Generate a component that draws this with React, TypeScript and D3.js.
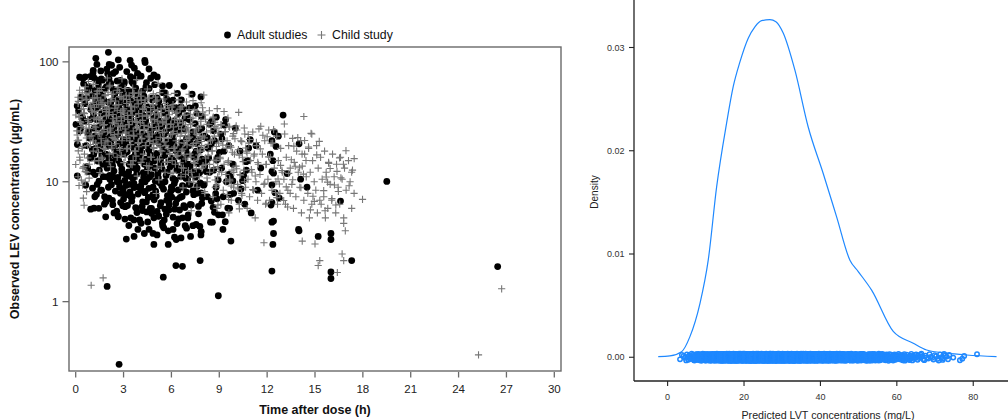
import React from "react";
import * as d3 from "d3";

// ---------- Left panel data: observed LEV concentration vs time after dose ----------
const xTicksLeft = [0, 3, 6, 9, 12, 15, 18, 21, 24, 27, 30];
const yTicksLeft = [1, 10, 100];

// individually read observations (edges, columns and outliers)
const adultStudies: [number, number][] = [
  [0.1,11.2],[0.31,28],[0.46,73],[1.04,75],[1.26,107],
  [0.6,75],[0.85,62],[0.7,50],[0.95,40],[0.55,32],[0.8,26],[0.65,20],[0.9,16],[0.75,13],[0.94,5.9],
  [1.1,85],[1.35,70],[1.2,58],[1.45,48],[1.05,40],[1.3,33],[1.15,28],[1.4,23],[1.25,19],[1.48,15],[1.1,12],[1.35,9.5],[1.2,7.5],[1.45,6],
  [2.05,120],[1.95,87],[1.6,72],[1.85,60],[1.7,52],[1.55,44],[1.9,37],[1.65,31],[1.8,26],[1.58,21],[1.88,17],[1.7,14],[1.95,11],[1.62,8.5],[1.8,6.5],[1.88,5.1],
  [2.1,95],[2.35,80],[2.2,66],[2.45,55],[2.05,46],[2.3,39],[2.15,33],[2.4,28],[2.25,24],[2.1,20],[2.45,16.5],[2.2,13.5],[2.35,11],[2.05,9],[2.3,7],[2.4,5.5],
  [2.67,104],[2.5,83],[2.8,70],[2.6,58],[2.9,49],[2.55,41],[2.75,35],[2.95,30],[2.65,25],[2.85,21],[2.55,18],[2.7,15],[2.9,12],[2.6,10],[2.8,8],[2.95,6.3],[2.67,5.1],[2.72,0.3],
  [3.41,103],[3.5,94],[3.2,83],[3.05,68],[3.35,57],[3.15,48],[3.45,40],[3.1,34],[3.3,29],[3.45,24],[3.2,20],[3.05,17],[3.35,14],[3.15,11.5],[3.4,9.5],[3.25,7.8],[3.1,6.2],[3.45,5],[3.66,3.5],
  [3.87,80],[3.6,66],[3.8,55],[3.95,46],[3.65,38],[3.9,32],[3.55,27],[3.75,23],[3.95,19],[3.6,16],[3.85,13],[3.7,11],[3.95,9],[3.55,7.5],[3.8,6],[3.65,4.8],[3.9,4],
  [4.33,103],[4.1,76],[4.4,62],[4.2,50],[4.05,42],[4.35,35],[4.15,29],[4.45,24],[4.25,20],[4.05,17],[4.3,14],[4.45,12],[4.15,10],[4.35,8.3],[4.2,6.8],[4.45,5.6],[4.1,4.5],[4.3,3.7],
  [4.9,78],[4.6,60],[4.8,48],[4.55,40],[4.95,33],[4.7,27],[4.85,22],[4.6,18.5],[4.75,15.5],[4.95,13],[4.65,11],[4.85,9],[4.55,7.4],[4.75,6],[4.9,5],[4.6,4],[4.9,3],
  [5.44,63],[5.1,50],[5.3,42],[5.05,35],[5.4,29],[5.2,24],[5.45,20],[5.1,16.5],[5.35,13.5],[5.15,11],[5.4,9.2],[5.05,7.6],[5.3,6.3],[5.2,5.2],[5.45,4.3],[5.1,3.6],[5.49,1.6],
  [5.6,55],[5.85,45],[5.7,37],[5.95,30],[5.55,25],[5.8,21],[5.65,17.5],[5.9,14.5],[5.75,12],[5.6,10],[5.95,8.3],[5.7,7],[5.85,5.8],[5.55,4.8],[5.8,3.9],[5.8,3.0],
  [6.1,48],[6.35,39],[6.2,32],[6.45,27],[6.05,22],[6.3,18],[6.15,15],[6.4,12.5],[6.25,10.3],[6.05,8.6],[6.35,7.1],[6.2,5.9],[6.45,4.9],[6.1,4],[6.3,3.3],[6.28,2.0],
  [6.6,42],[6.85,34],[6.7,28],[6.95,23],[6.55,19],[6.8,15.5],[6.65,13],[6.9,10.7],[6.75,9],[6.55,7.4],[6.85,6.1],[6.7,5],[6.95,4.1],[6.6,3.4],[6.69,1.97],
  [7.5,43],[7.1,33],[7.35,26],[7.2,21],[7.45,17],[7.05,14],[7.3,11.5],[7.15,9.5],[7.4,7.8],[7.25,6.4],[7.05,5.3],[7.35,4.3],[7.2,3.5],
  [7.85,51],[7.6,37],[7.9,28],[7.7,22],[7.55,18],[7.95,14.5],[7.65,12],[7.8,9.8],[7.6,8],[7.9,6.6],[7.7,5.4],[7.55,4.4],[7.85,3.6],[7.8,2.2],
  [8.47,31],[8.1,24],[8.3,19],[8.15,15],[8.4,12],[8.05,9.5],[8.25,7.5],[8.5,6.9],[8.45,4.6],[8.57,4.6],
  [8.54,32],[8.7,22],[8.9,16],[8.65,12.5],[8.8,9],[8.95,5.3],[8.94,1.12],
  [9.4,33],[9.1,25],[9.3,18],[9.15,13],[9.45,10],[9.25,7.5],[9.2,5.3],[9.23,4.0],
  [10,28],[9.6,20],[9.85,14],[9.7,11],[9.9,8],[9.65,6],[9.73,3.2],
  [10.5,10.3],[10.3,18],[10.7,12.5],[10.2,7],[10.94,22.4],[10.8,15],[10.46,10.2],[11,5.5],[10.6,6.5],
  [11.3,20],[11.6,13],[11.4,8.5],
  [13.0,36],[12.45,26],[12.7,24],[12.3,22],[12.56,19.7],[12.2,17],[12.36,15],[12.3,12.2],[12.4,11.8],[12.3,9.4],[12.5,8.1],[12.76,7.3],[12.24,6.4],[12.3,6.7],[12.4,4.7],[12.3,4.6],[12.4,3.7],[12.36,3.0],[12.3,1.8],
  [13.25,11.7],[14,20.7],[14.1,10.5],[14.5,9],[14,3.9],[13.97,4],[15.2,3.5],
  [16,3.7],[16,3.3],[16,1.77],[16,1.56],[16.6,6.9],[17.3,2.2],
  [19.5,10.06],[26.45,1.96],[1.97,1.34]
];

const childStudy: [number, number][] = [
  [0.25,58],[0.4,50],[0.15,45],[0.35,40],[0.2,35],[0.45,30],[0.3,26],[0.1,22],[0.4,19],[0.25,16],[0.45,13],[0.15,11],[0.21,9.3],[0.48,7.3],
  [0.6,62],[0.85,55],[0.7,48],[0.95,42],[0.55,37],[0.8,32],[0.65,28],[0.9,24],[0.75,20],[0.55,17],[0.85,14],[0.7,12],[0.6,10],
  [1.1,65],[1.35,57],[1.2,50],[1.45,44],[1.05,38],[1.3,33],[1.15,29],[1.4,25],[1.25,21],[1.1,18],[1.45,15],[0.97,1.37],[1.72,1.58],
  [1.6,60],[1.85,53],[1.7,46],[1.95,40],[1.55,35],[1.8,30],[1.65,26],[1.9,22],[1.75,19],[1.6,16],
  [2.1,62],[2.35,54],[2.2,47],[2.45,41],[2.05,36],[2.3,31],[2.15,27],[2.4,23],[2.25,20],[2.1,17],
  [2.6,58],[2.85,51],[2.7,44],[2.95,39],[2.55,34],[2.8,29],[2.65,25],[2.9,22],[2.75,19],[2.6,16],
  [3.1,60],[3.35,52],[3.2,45],[3.45,39],[3.05,34],[3.3,30],[3.15,26],[3.4,22],[3.25,19],[3.1,16],[3.45,14],
  [3.6,55],[3.85,48],[3.7,42],[3.95,37],[3.55,32],[3.8,28],[3.65,24],[3.9,21],[3.75,18],[3.6,15],
  [4.1,56],[4.35,48],[4.2,41],[4.45,36],[4.05,31],[4.3,27],[4.15,23],[4.4,20],[4.25,17],[4.1,14.5],
  [4.6,50],[4.85,44],[4.7,38],[4.95,33],[4.55,29],[4.8,25],[4.65,22],[4.9,19],[4.75,16],[4.6,13.5],
  [5.1,48],[5.35,41],[5.2,36],[5.45,31],[5.05,27],[5.3,23.5],[5.15,20.5],[5.4,18],[5.25,15.5],[5.1,13],
  [5.6,45],[5.85,39],[5.7,34],[5.95,30],[5.55,26],[5.8,23],[5.65,20],[5.9,17],[5.75,14.5],[5.6,12],
  [6.1,44],[6.35,38],[6.2,33],[6.45,29],[6.05,25],[6.3,22],[6.15,19],[6.4,16.5],[6.25,14],[6.1,12],
  [6.6,42],[6.85,36],[6.7,31],[6.95,27],[6.55,24],[6.8,21],[6.65,18],[6.9,15.5],[6.75,13],[6.6,11],
  [7.1,40],[7.35,34],[7.2,30],[7.45,26],[7.05,23],[7.3,20],[7.15,17],[7.4,14.5],[7.25,12],[7.1,10],
  [7.6,38],[7.85,32],[7.7,28],[7.95,24],[7.55,21],[7.8,18],[7.65,15.5],[7.9,13],[7.75,11],[7.6,9],
  [8.1,36],[8.35,30],[8.2,26],[8.45,22],[8.05,19],[8.3,16.5],[8.15,14],[8.4,12],[8.25,10],[8.1,8],
  [8.6,34],[8.85,28],[8.7,24],[8.95,21],[8.55,18],[8.8,15],[8.65,13],[8.9,11],[8.75,9],[8.6,7.5],[8.85,6],
  [9.1,30],[9.35,26],[9.2,22],[9.45,19],[9.05,16],[9.3,14],[9.15,12],[9.4,10],[9.25,8.5],[9.1,6.5],
  [9.6,29],[9.85,24],[9.7,20],[9.95,17],[9.55,14.5],[9.8,12.5],[9.65,10.5],[9.9,9],[9.75,7],[9.6,5.5],
  [10.1,27],[10.35,22],[10.2,18.5],[10.45,16],[10.05,13.5],[10.3,11.5],[10.15,9.5],[10.4,8],[10.25,6.5],
  [10.6,25],[10.85,21],[10.7,18],[10.95,15],[10.55,12.5],[10.8,10.5],[10.65,9],[10.9,7.5],[10.75,6],
  [11.1,26],[11.35,20],[11.2,17],[11.45,14],[11.05,12],[11.3,10],[11.15,8.5],[11.4,7],[11.25,5],[11.8,3.1],
  [11.6,29],[11.85,22],[11.7,17],[11.95,14],[11.55,11.5],[11.8,9.5],[11.65,8],[11.9,6.5],
  [12.1,27],[12.35,21],[12.2,16],[12.45,13],[12.05,10.5],[12.3,8.5],[12.15,7],
  [12.6,24],[12.85,19],[12.7,15],[12.95,12],[12.55,10],[12.8,8],[12.65,6.5],
  [13.1,25],[13.35,20],[13.2,16],[13.45,13],[13.05,10.5],[13.3,8.5],[13.15,6.5],
  [13.6,23],[13.85,18],[13.7,14.5],[13.95,12],[13.55,9.5],[13.8,7.5],[13.65,6],
  [14.3,35],[14.1,22],[14.35,17],[14.2,13.5],[14.45,11],[14.05,9],[14.3,7],[14.15,5.5],[14.2,3.2],
  [14.8,25],[14.6,19],[14.85,15],[14.7,12],[14.95,10],[14.55,8],[14.8,6.5],[14.65,5],
  [15.1,20],[15.35,16],[15.2,13],[15.45,10.5],[15.05,8.5],[15.3,7],[15.15,5.5],[15.0,3.03],[15.3,2.2],[15.2,2.0],
  [15.6,18],[15.85,14.5],[15.7,12],[15.95,9.5],[15.55,7.5],[15.8,6],[15.65,5],
  [16.1,17],[16.35,14],[16.2,11],[16.45,9],[16.05,7],[16.3,5.5],[16.4,1.75],
  [16.6,16],[16.85,13],[16.7,10.5],[16.95,8.5],[16.55,6.5],[16.8,5],[16.8,4.5],[16.9,3.9],[16.7,2.5],[16.8,2.2],
  [17.1,15],[17.35,12.5],[17.2,10],[17.45,8],[17.3,6],
  [26.7,1.28],[25.25,0.36]
];

// Dense cores, read as counts of further observations per cell:
// columns = 1-h time bins starting at 0 h, rows = 1/8-decade concentration bins starting at 100 going down
const coreTimeBins = [0, 1, 2, 3, 4, 5, 6, 7, 8, 9, 10, 11, 12, 13, 14, 15, 16, 17];
const coreLogTop = [2.0, 1.875, 1.75, 1.625, 1.5, 1.375, 1.25, 1.125, 1.0, 0.875, 0.75, 0.625];
const adultCoreCounts = [
  [1, 3, 3, 3, 2, 0, 0, 0, 0, 0, 0],
  [3, 5, 6, 5, 4, 2, 1, 0, 0, 0, 0],
  [3, 6, 7, 6, 5, 4, 2, 1, 0, 0, 0],
  [3, 6, 7, 7, 6, 5, 4, 2, 1, 0, 0],
  [3, 6, 7, 7, 6, 6, 5, 3, 2, 1, 0],
  [2, 6, 7, 7, 6, 6, 5, 4, 2, 1, 1],
  [2, 5, 7, 7, 6, 6, 5, 4, 3, 1, 1],
  [1, 5, 6, 7, 6, 5, 5, 4, 2, 2, 1],
  [1, 4, 6, 6, 6, 5, 5, 4, 2, 1, 1],
  [0, 2, 4, 5, 5, 5, 4, 3, 2, 1, 0],
  [0, 0, 1, 3, 3, 3, 3, 2, 1, 1, 0],
  [0, 0, 0, 1, 1, 1, 1, 1, 0, 0, 0]
];
const childCoreCounts = [
  [0, 0, 0, 0, 0, 0, 0, 0, 0, 0, 0, 0, 0, 0, 0, 0, 0, 0],
  [2, 3, 3, 2, 1, 1, 0, 0, 0, 0, 0, 0, 0, 0, 0, 0, 0, 0],
  [7, 9, 9, 8, 7, 6, 4, 3, 1, 0, 0, 0, 0, 0, 0, 0, 0, 0],
  [7, 9, 9, 9, 9, 8, 7, 6, 4, 2, 1, 0, 0, 0, 0, 0, 0, 0],
  [7, 8, 8, 8, 8, 8, 8, 7, 5, 4, 3, 2, 1, 1, 1, 0, 0, 0],
  [5, 6, 6, 6, 6, 6, 6, 6, 5, 4, 3, 2, 2, 2, 2, 1, 1, 0],
  [4, 3, 3, 3, 3, 4, 4, 4, 4, 3, 3, 3, 2, 2, 2, 2, 2, 1],
  [3, 1, 1, 1, 1, 2, 2, 3, 3, 3, 3, 2, 2, 2, 2, 2, 2, 1],
  [2, 0, 0, 0, 0, 1, 1, 1, 2, 2, 2, 2, 2, 2, 2, 2, 2, 1],
  [1, 0, 0, 0, 0, 0, 0, 1, 1, 1, 1, 1, 1, 2, 2, 2, 2, 1],
  [0, 0, 0, 0, 0, 0, 0, 0, 0, 0, 0, 0, 0, 0, 0, 0, 0, 0],
  [0, 0, 0, 0, 0, 0, 0, 0, 0, 0, 0, 0, 0, 0, 0, 0, 0, 0]
];

// ---------- Right panel data: density of predicted LVT concentrations ----------
const xTicksRight = [0, 20, 40, 60, 80];
const yTicksRight = [0, 0.01, 0.02, 0.03];

const densityConc = [-2.46, 0.6, 3.66, 5.84, 8.46, 10.63, 12.83, 15.45, 17.17, 18.93, 21.1, 22.85, 24.6, 26.78, 28.35, 30.26, 33.32, 36.8, 40.73, 44.24, 47.72, 49.9, 53.4, 59.06, 64.3, 67.8, 73.0, 78.3, 86.1];
const densityValue = [0.00006, 0.00013, 0.00054, 0.002, 0.0052, 0.0094, 0.0165, 0.0227, 0.0262, 0.0286, 0.0309, 0.032, 0.0326, 0.0327, 0.0325, 0.0314, 0.0278, 0.0223, 0.0178, 0.0136, 0.0094, 0.0083, 0.0065, 0.0025, 0.00136, 0.0007, 0.0004, 0.00022, 0.00006];

// rug: number of predicted concentrations in each 1 mg/L bin, starting at 3 mg/L
const rugBinStart = 3;
const rugCounts = [
  2, 3, 5, 8, 12, 16, 21, 27, 35, 46, 57, 64, 68, 75, 80, 84, 88, 91, 94, 95,
  97, 98, 98, 98, 98, 97, 96, 93, 90, 86, 82, 78, 73, 68, 64, 60, 56, 52, 49, 45,
  42, 40, 36, 32, 29, 27, 25, 24, 23, 21, 19, 16,
  14, 12, 10, 9, 8, 7, 7, 6, 6, 5, 5, 4, 3, 3, 3, 3, 3, 3, 3, 1, 0, 1, 2, 0, 0, 1
];

const W = 1008;
const H = 420;
const FONT = "'Liberation Sans', Arial, Helvetica, sans-serif";

const frac = (v: number) => v - Math.floor(v);

export default function App() {
  // Left panel scales
  const xL = d3.scaleLinear().domain([-0.42, 30.42]).range([69, 561]);
  const yL = d3.scaleLog().domain([0.264, 133]).range([371, 47]);
  // Right panel scales
  const xR = d3.scaleLinear().domain([-8.8, 89.1]).range([634, 1008]);
  const yR = d3.scaleLinear().domain([-0.0023, 0.0346]).range([381, 0]);

  // expand core cell counts into observation positions spread over each cell
  const expandCore = (counts: number[][], seed: number): [number, number][] => {
    const out: [number, number][] = [];
    counts.forEach((row, r) => {
      row.forEach((n, c) => {
        const cell = r * 31 + c * 7 + seed;
        for (let k = 0; k < n; k++) {
          const u = frac(0.7548776662 * (k + 1) + 0.381966 * cell);
          const v = frac(0.5698402910 * (k + 1) + 0.618034 * cell * 1.3);
          const t = coreTimeBins[c] + u;
          const logc = coreLogTop[r] - 0.125 * v;
          out.push([t, Math.pow(10, logc)]);
        }
      });
    });
    return out;
  };
  const adultAll = [...adultStudies, ...expandCore(adultCoreCounts, 3)];
  const childAll = [...childStudy, ...expandCore(childCoreCounts, 11)];

  // rug positions
  const rug: [number, number][] = [];
  let idx = 0;
  rugCounts.forEach((n, b) => {
    for (let k = 0; k < n; k++) {
      const x = rugBinStart + b + frac((k + 0.5) / n + 0.37 * b);
      const jitter = (frac(idx * 0.618034 + 0.2) - 0.5) * 2 * 0.00034;
      rug.push([x, jitter]);
      idx++;
    }
  });

  const densityPts: [number, number][] = densityConc.map((c, i) => [c, densityValue[i]]);
  const densityPath = d3
    .line<[number, number]>()
    .x((d) => xR(d[0]))
    .y((d) => yR(d[1]))
    .curve(d3.curveMonotoneX)(densityPts) as string;

  const frameColor = "#6a6a6a";
  const crossColor = "#777777";
  const blue = "#1E88FF";

  return (
    <svg width={W} height={H} style={{ position: "absolute", left: 0, top: 0, background: "#fff" }} fontFamily={FONT}>
      <rect x={0} y={0} width={W} height={H} fill="#fff" />

      {/* ---------------- Left panel ---------------- */}
      <g>
        {adultAll.map((d, i) => (
          <circle key={"a" + i} cx={xL(d[0])} cy={yL(d[1])} r={3.4} fill="#000" />
        ))}
        {childAll.map((d, i) => {
          const cx = xL(d[0]);
          const cy = yL(d[1]);
          return (
            <path
              key={"c" + i}
              d={`M${cx - 3.6},${cy}H${cx + 3.6}M${cx},${cy - 3.6}V${cy + 3.6}`}
              stroke={crossColor}
              strokeWidth={1.1}
              fill="none"
            />
          );
        })}
        <rect x={69} y={47} width={492} height={324} fill="none" stroke={frameColor} strokeWidth={1.4} />
        {/* x axis */}
        {xTicksLeft.map((t) => (
          <g key={"xt" + t}>
            <line x1={xL(t)} x2={xL(t)} y1={372} y2={377.5} stroke={frameColor} strokeWidth={1.3} />
            <text x={xL(t)} y={393} textAnchor="middle" fontSize={11.5} fill="#222">
              {t}
            </text>
          </g>
        ))}
        <text x={315} y={414} textAnchor="middle" fontSize={12.5} fontWeight="bold" fill="#111">
          Time after dose (h)
        </text>
        {/* y axis */}
        {yTicksLeft.map((t) => (
          <g key={"yt" + t}>
            <line x1={62.5} x2={69} y1={yL(t)} y2={yL(t)} stroke={frameColor} strokeWidth={1.3} />
            <text x={58.5} y={yL(t) + 4} textAnchor="end" fontSize={11.5} fill="#222">
              {t}
            </text>
          </g>
        ))}
        <text
          transform={`translate(19,${209}) rotate(-90)`}
          textAnchor="middle"
          fontSize={12.5}
          fontWeight="bold"
          fill="#111"
        >
          Observed LEV concentration (µg/mL)
        </text>
        {/* legend */}
        <circle cx={227.5} cy={35} r={3.4} fill="#000" />
        <text x={237} y={39.2} fontSize={12.3} fill="#111">
          Adult studies
        </text>
        <path d={`M${317.5},35H${325.5}M${321.5},31V39`} stroke={crossColor} strokeWidth={1.1} />
        <text x={332} y={39.2} fontSize={12.3} fill="#111">
          Child study
        </text>
      </g>

      {/* ---------------- Right panel ---------------- */}
      <g>
        <path d={densityPath} fill="none" stroke={blue} strokeWidth={1.2} />
        {rug.map((d, i) => (
          <circle
            key={"r" + i}
            cx={xR(d[0])}
            cy={yR(d[1])}
            r={2.2}
            fill="none"
            stroke={blue}
            strokeWidth={1.5}
          />
        ))}
        <line x1={634} x2={634} y1={0} y2={381} stroke="#222" strokeWidth={1.3} />
        <line x1={634} x2={1008} y1={381} y2={381} stroke="#222" strokeWidth={1.3} />
        {yTicksRight.map((t) => (
          <g key={"yr" + t}>
            <line x1={629} x2={634} y1={yR(t)} y2={yR(t)} stroke="#222" strokeWidth={1.1} />
            <text x={624.5} y={yR(t) + 3.2} textAnchor="end" fontSize={9} fill="#333">
              {t.toFixed(2)}
            </text>
          </g>
        ))}
        {xTicksRight.map((t) => (
          <g key={"xr" + t}>
            <line x1={xR(t)} x2={xR(t)} y1={381} y2={386} stroke="#222" strokeWidth={1.1} />
            <text x={xR(t)} y={400} textAnchor="middle" fontSize={9} fill="#333">
              {t}
            </text>
          </g>
        ))}
        <text transform={`translate(598,192) rotate(-90)`} textAnchor="middle" fontSize={10} fill="#222">
          Density
        </text>
        <text x={828} y={419} textAnchor="middle" fontSize={10.7} fill="#222">
          Predicted LVT concentrations (mg/L)
        </text>
      </g>
    </svg>
  );
}
